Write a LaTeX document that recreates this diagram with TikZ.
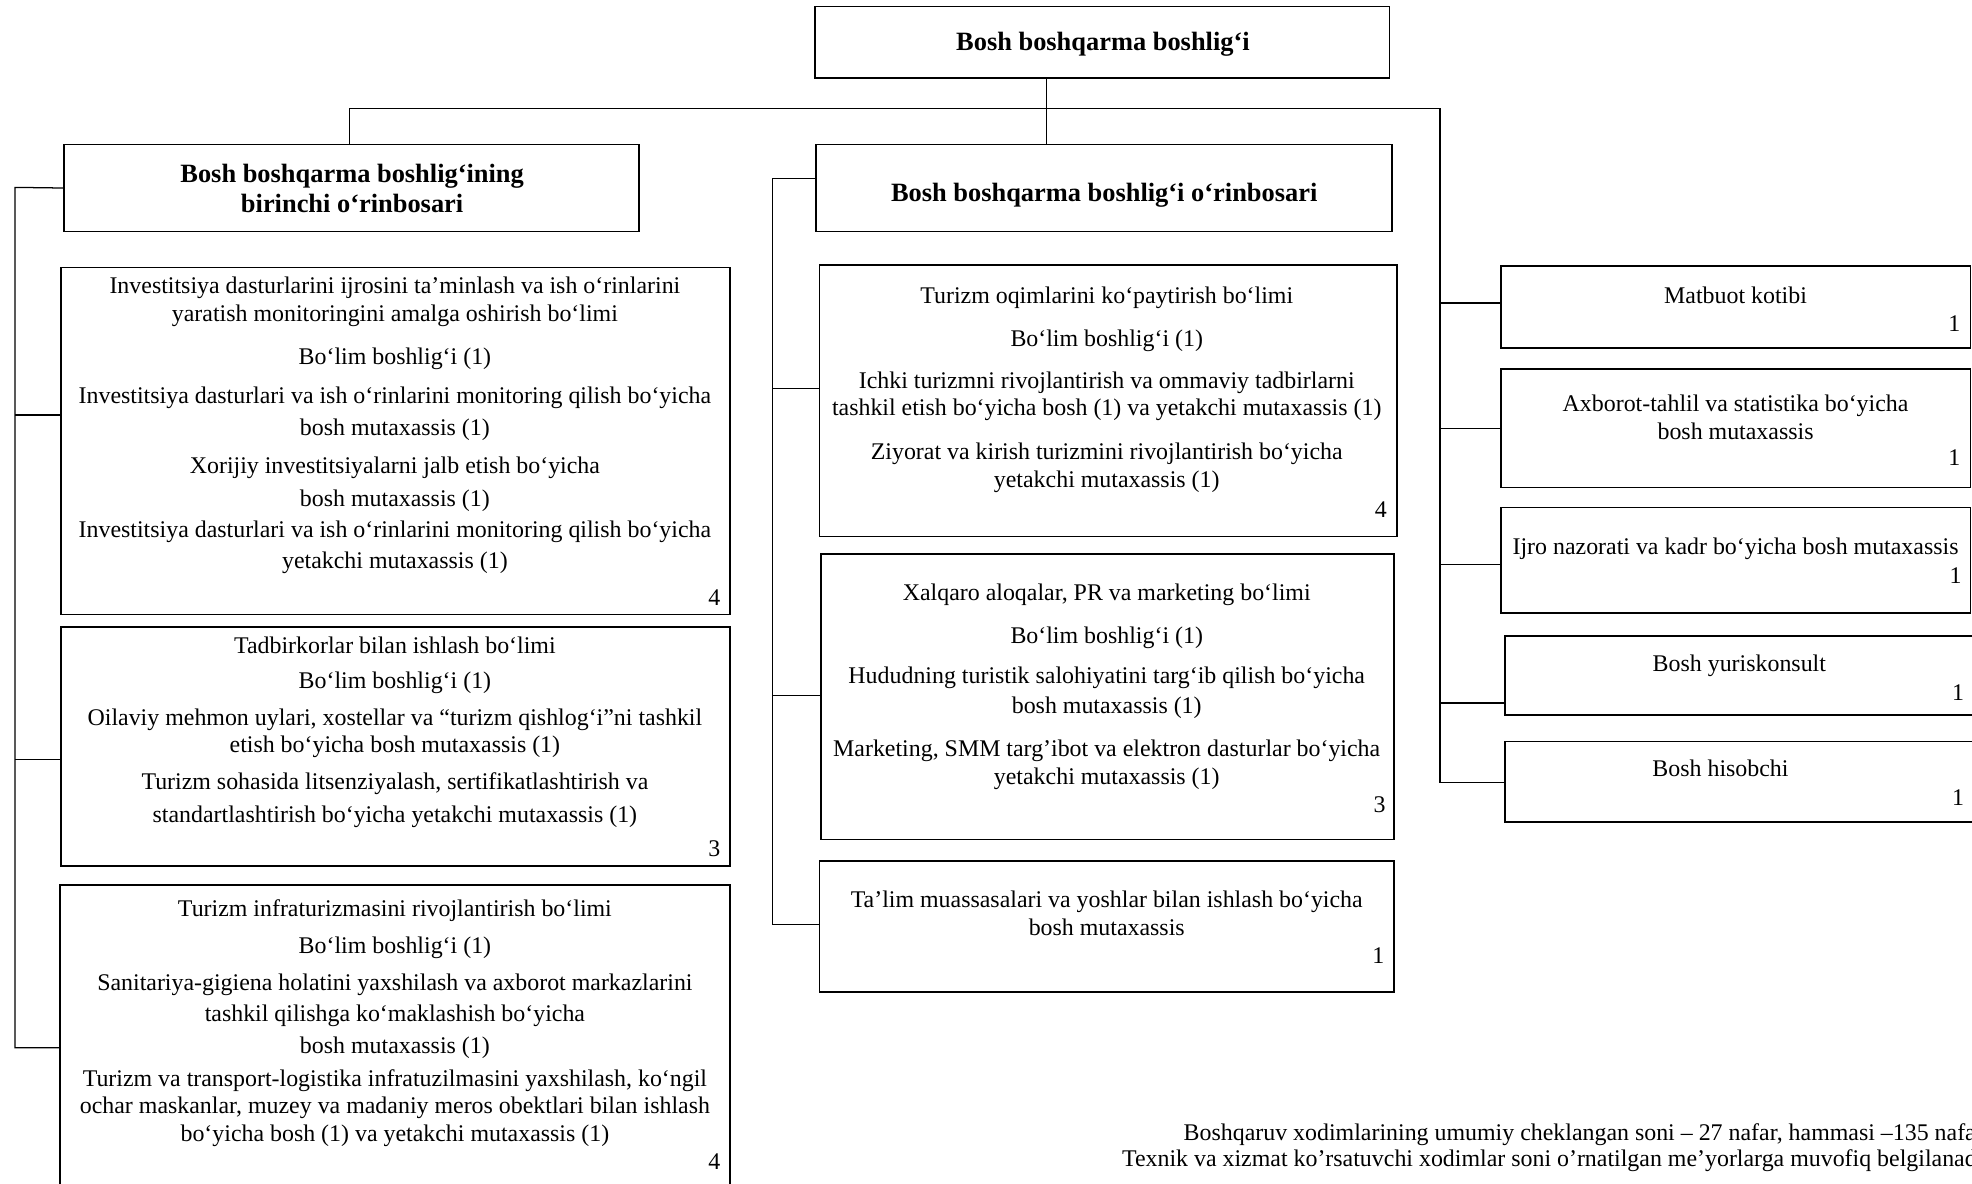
\documentclass[tikz,border=0pt]{standalone}
\usepackage{fontspec}
\setmainfont{Liberation Serif}
\begin{document}
\begin{tikzpicture}[x=1pt,y=-1pt,
  box/.style={draw, line width=1.2pt, inner sep=0pt, anchor=north west},
  hbox/.style={draw, line width=1.2pt, inner sep=0pt},
  htxt/.style={align=center, inner sep=0pt, font=\bfseries\fontsize{21}{24}\selectfont},
  conn/.style={line width=1pt},
  txt/.style={align=center, inner sep=0pt, font=\fontsize{19}{22}\selectfont},
  num/.style={inner sep=0pt, font=\fontsize{19}{22}\selectfont}]
\useasboundingbox (0,0) rectangle (1568,941);
\clip (0,0) rectangle (1568,941);
\fill[white] (0,0) rectangle (1568,941);

% heads
\node[hbox, minimum width=457pt, minimum height=57pt] (top) at (876.5,33.5) {};
\node[htxt] (topt) at (877,35) {Bosh boshqarma boshlig‘i};
\node[hbox, minimum width=457pt, minimum height=69pt] (ld) at (279.5,149.5) {};
\node[htxt] (ldt) at (280,150) {Bosh boshqarma boshlig‘ining\\birinchi o‘rinbosari};
\node[hbox, minimum width=458pt, minimum height=69pt] (md) at (878,149.5) {};
\node[htxt] (mdt) at (878,155) {Bosh boshqarma boshlig‘i o‘rinbosari};

% department boxes
\node[box, minimum width=532pt, minimum height=276pt] (L1) at (48,212) {};
\node[box, minimum width=532pt, minimum height=190pt] (L2) at (48,498) {};
\node[box, minimum width=533pt, minimum height=260pt] (L3) at (47,703) {};
\node[box, minimum width=459pt, minimum height=216pt] (M1) at (651,210) {};
\node[box, minimum width=456pt, minimum height=227pt] (M2) at (652,440) {};
\node[box, minimum width=457pt, minimum height=104pt] (M3) at (651,684) {};
\node[box, minimum width=373pt, minimum height=65pt] (R1) at (1193,211) {};
\node[box, minimum width=373pt, minimum height=94pt] (R2) at (1193,293) {};
\node[box, minimum width=373pt, minimum height=84pt] (R3) at (1193,403) {};
\node[box, minimum width=390pt, minimum height=63pt] (R4) at (1196,505) {};
\node[box, minimum width=390pt, minimum height=64pt] (R5) at (1196,589) {};

% connectors
\coordinate (jt) at (832,86);
\coordinate (jl) at (278,86);
\coordinate (jr) at (1145,86);
\draw[conn] (top.south -| jt) -- (md.north -| jt);
\draw[conn] (jl) -- (jr);
\draw[conn] (ld.north -| jl) -- (jl);
\coordinate (rb1) at (1145,241);
\coordinate (rb2) at (1145,341);
\coordinate (rb3) at (1145,449);
\coordinate (rb4) at (1145,559);
\coordinate (rb5) at (1145,622);
\draw[conn] (jr) -- (rb5) -- (rb5 -| R5.west);
\draw[conn] (rb1) -- (rb1 -| R1.west);
\draw[conn] (rb2) -- (rb2 -| R2.west);
\draw[conn] (rb3) -- (rb3 -| R3.west);
\draw[conn] (rb4) -- (rb4 -| R4.west);

\coordinate (lb0) at (12,149);
\coordinate (lb1) at (12,330);
\coordinate (lb2) at (12,604);
\coordinate (lb3) at (12,833);
\draw[conn] (ld.west) -- (lb0) -- (lb3) -- (lb3 -| L3.west);
\draw[conn] (lb1) -- (lb1 -| L1.west);
\draw[conn] (lb2) -- (lb2 -| L2.west);

\coordinate (mb0) at (614,142);
\coordinate (mb1) at (614,309);
\coordinate (mb2) at (614,553);
\coordinate (mb3) at (614,735);
\draw[conn] (mb0 -| md.west) -- (mb0) -- (mb3) -- (mb3 -| M3.west);
\draw[conn] (mb1) -- (mb1 -| M1.west);
\draw[conn] (mb2) -- (mb2 -| M2.west);

% L1 texts
\node[txt] (l1a) at (314,240) {Investitsiya dasturlarini ijrosini ta’minlash va ish o‘rinlarini\\yaratish monitoringini amalga oshirish bo‘limi};
\node[txt] (l1b) at (314,285) {Bo‘lim boshlig‘i (1)};
\node[txt] (l1c) at (314,329) {Investitsiya dasturlari va ish o‘rinlarini monitoring qilish bo‘yicha\\[4pt]bosh mutaxassis (1)};
\node[txt] (l1d) at (314,385) {Xorijiy investitsiyalarni jalb etish bo‘yicha\\[4pt]bosh mutaxassis (1)};
\node[txt] (l1e) at (314,435) {Investitsiya dasturlari va ish o‘rinlarini monitoring qilish bo‘yicha\\[3pt]yetakchi mutaxassis (1)};
\node[num] (l1n) at (568,475) {4};

% L2 texts
\node[txt] (l2a) at (314,513) {Tadbirkorlar bilan ishlash bo‘limi};
\node[txt] (l2b) at (314,543) {Bo‘lim boshlig‘i (1)};
\node[txt] (l2c) at (314,583) {Oilaviy mehmon uylari, xostellar va “turizm qishlog‘i”ni tashkil\\etish bo‘yicha bosh mutaxassis (1)};
\node[txt] (l2d) at (314,636) {Turizm sohasida litsenziyalash, sertifikatlashtirish va\\[4pt]standartlashtirish bo‘yicha yetakchi mutaxassis (1)};
\node[num] (l2n) at (568,675) {3};

% L3 texts
\node[txt] (l3a) at (314,724) {Turizm infraturizmasini rivojlantirish bo‘limi};
\node[txt] (l3b) at (314,754) {Bo‘lim boshlig‘i (1)};
\node[txt] (l3c) at (314,808) {Sanitariya-gigiena holatini yaxshilash va axborot markazlarini\\[3pt]tashkil qilishga ko‘maklashish bo‘yicha\\[3pt]bosh mutaxassis (1)};
\node[txt] (l3d) at (314,881) {Turizm va transport-logistika infratuzilmasini yaxshilash, ko‘ngil\\ochar maskanlar, muzey va madaniy meros obektlari bilan ishlash\\bo‘yicha bosh (1) va yetakchi mutaxassis (1)};
\node[num] (l3n) at (568,924) {4};

% M1 texts
\node[txt] (m1a) at (880,237) {Turizm oqimlarini ko‘paytirish bo‘limi};
\node[txt] (m1b) at (880,271) {Bo‘lim boshlig‘i (1)};
\node[txt] (m1c) at (880,315) {Ichki turizmni rivojlantirish va ommaviy tadbirlarni\\tashkil etish bo‘yicha bosh (1) va yetakchi mutaxassis (1)};
\node[txt] (m1d) at (880,372) {Ziyorat va kirish turizmini rivojlantirish bo‘yicha\\yetakchi mutaxassis (1)};
\node[num] (m1n) at (1098,405) {4};

% M2 texts
\node[txt] (m2a) at (880,473) {Xalqaro aloqalar, PR va marketing bo‘limi};
\node[txt] (m2b) at (880,507) {Bo‘lim boshlig‘i (1)};
\node[txt] (m2c) at (880,551) {Hududning turistik salohiyatini targ‘ib qilish bo‘yicha\\[2pt]bosh mutaxassis (1)};
\node[txt] (m2d) at (880,608) {Marketing, SMM targ’ibot va elektron dasturlar bo‘yicha\\yetakchi mutaxassis (1)};
\node[num] (m2n) at (1097,640) {3};

% M3 texts
\node[txt] (m3a) at (880,726) {Ta’lim muassasalari va yoshlar bilan ishlash bo‘yicha\\bosh mutaxassis};
\node[num] (m3n) at (1096,760) {1};

% right texts
\node[txt] (r1a) at (1380,235) {Matbuot kotibi};
\node[num] (r1n) at (1554,257) {1};
\node[txt] (r2a) at (1380,332) {Axborot-tahlil va statistika bo‘yicha\\bosh mutaxassis};
\node[num] (r2n) at (1554,364) {1};
\node[txt] (r3a) at (1380,436) {Ijro nazorati va kadr bo‘yicha bosh mutaxassis};
\node[num] (r3n) at (1555,458) {1};
\node[txt] (r4a) at (1383,529) {Bosh yuriskonsult};
\node[num] (r4n) at (1557,551) {1};
\node[txt] (r5a) at (1368,611) {Bosh hisobchi};
\node[num] (r5n) at (1557,634) {1};

% footer
\node[txt, anchor=west] (f1) at (941,902) {Boshqaruv xodimlarining umumiy cheklangan soni – 27 nafar, hammasi –135 nafar.};
\node[txt, anchor=west] (f2) at (892,923) {Texnik va xizmat ko’rsatuvchi xodimlar soni o’rnatilgan me’yorlarga muvofiq belgilanadi.};
\end{tikzpicture}
\end{document}
